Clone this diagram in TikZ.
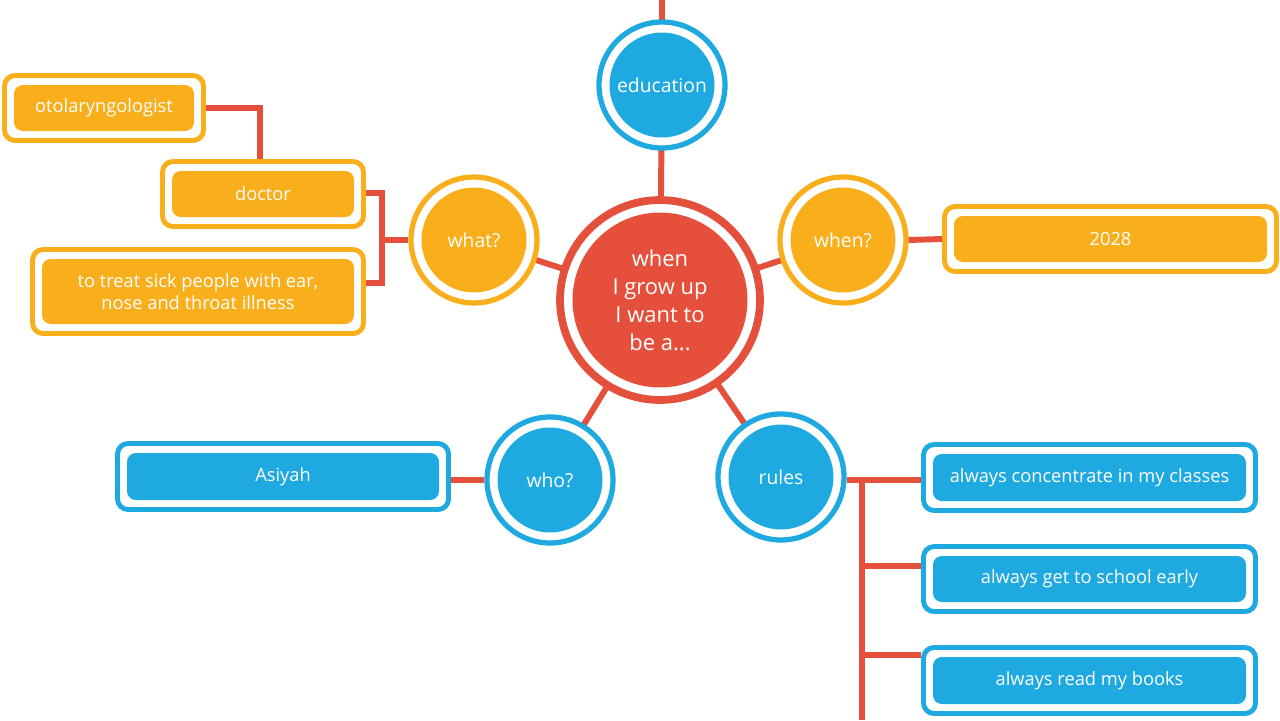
\documentclass[tikz,border=0pt]{standalone}
\usepackage{fontspec}
\setmainfont{Open Sans}
\begin{document}
\definecolor{cred}{HTML}{E5503C}
\definecolor{cblue}{HTML}{1FA9E1}
\definecolor{corg}{HTML}{F9AE1B}
\begin{tikzpicture}[x=0.02cm,y=-0.02cm,
 conn/.style={cred,line width=3.4pt},
 ring/.style={circle,draw=#1,line width=3pt,fill=white,minimum size=2.52cm,inner sep=0pt},
 core/.style={circle,fill=#1,minimum size=2.1cm,inner sep=0pt,text=white,font=\fontsize{11}{13}\selectfont,align=center},
 obox/.style={draw=#1,line width=2.8pt,fill=white,rounded corners=6pt,inner sep=0pt},
 ibox/.style={fill=#1,rounded corners=5pt,inner sep=0pt,text=white,font=\fontsize{10.4}{12.5}\selectfont,align=center}]
\useasboundingbox (0,0) rectangle (1280,720);
\newcommand\mybox[7]{% name color x1 y1 x2 y2 text
 \node[obox=#2,minimum width={(#5-#3-3)*0.02cm},minimum height={(#6-#4-3)*0.02cm}] (#1) at ({(#3+#5)/2},{(#4+#6)/2}) {};
 \node[ibox=#2,minimum width={(#5-#3-22)*0.02cm},minimum height={(#6-#4-22)*0.02cm}] at (#1) {#7};}
% connectors
\coordinate (top) at (662,0);
\coordinate (rbot) at (862,720);
\coordinate (rj) at (862,480);
\coordinate (wj) at (382,240);
\coordinate (oj) at (260,108);
\draw[conn] (660,300) -- (662,85) -- (top);
\draw[conn] (660,300) -- (474,240);
\draw[conn] (660,300) -- (843,240);
\draw[conn] (660,300) -- (550,480);
\draw[conn] (660,300) -- (781,477);
% circles
\node[ring=cred,minimum size=4.0cm,line width=4.4pt] (c) at (660,300) {};
\node[core=cred,minimum size=3.5cm,font=\fontsize{12.5}{16}\selectfont] at (c) {when\\I grow up\\I want to\\be a...};
\foreach \n/\x/\y/\col/\t in {edu/662/85/cblue/education, what/474/240/corg/what?, when/843/240/corg/when?, who/550/480/cblue/who?, rules/781/477/cblue/rules}{
 \node[ring=\col] (\n) at (\x,\y) {};
 \node[core=\col] at (\n) {\t};}
% boxes
\mybox{oto}{corg}{3}{74}{205}{142}{otolaryngologist}
\mybox{doc}{corg}{161}{160}{365}{228}{doctor}
\mybox{trt}{corg}{31}{248}{365}{335}{to treat sick people with ear,\\nose and throat illness}
\mybox{y28}{corg}{943}{205}{1278}{273}{2028}
\mybox{asi}{cblue}{116}{442}{450}{511}{Asiyah}
\mybox{r1}{cblue}{922}{443}{1257}{512}{always concentrate in my classes}
\mybox{r2}{cblue}{922}{545}{1257}{613}{always get to school early}
\mybox{r3}{cblue}{922}{646}{1257}{715}{always read my books}
% branch connectors
\draw[conn] (what.west) -- (wj);
\draw[conn] (doc.east |- 0,193) -| (382,283) -- (trt.east |- 0,283);
\draw[conn] (oto.east) -| (doc.north -| oj);
\draw[conn] (when.east) -- (y28.west);
\draw[conn] (who.west) -- (asi.east |- who.west);
\draw[conn] (rules.east |- rj) -- (rj) -- (rbot);
\draw[conn] (rj) -- (r1.west |- rj);
\draw[conn] (862,566) -- (r2.west |- 0,566);
\draw[conn] (862,655) -- (r3.west |- 0,655);
\end{tikzpicture}
\end{document}
